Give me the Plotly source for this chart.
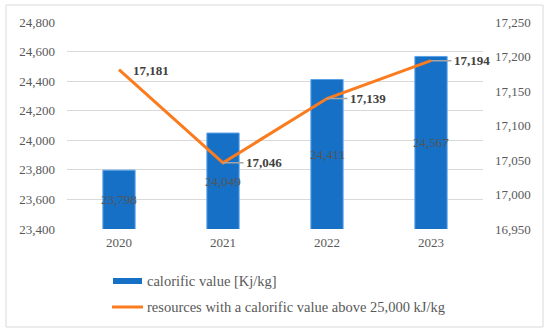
import plotly.graph_objects as go

years = ["2020", "2021", "2022", "2023"]
calorific = [23798, 24049, 24411, 24567]
resources = [17181, 17046, 17139, 17194]
bar_labels = ["23,798", "24,049", "24,411", "24,567"]
line_labels = ["17,181", "17,046", "17,139", "17,194"]
left_ticks = list(range(23400, 24801, 200))
right_ticks = list(range(16950, 17251, 50))

FONT = "Liberation Serif"
GRAY = "#595959"
BLUE = "#1570c6"
ORANGE = "#fb7b1f"

W, H = 550, 335
L, R, T, B = 67, 67, 22, 106
pw, ph = W - L - R, H - T - B
YMIN = 23400

def px(x):
    return (x - L) / pw

def py(y):
    return (H - B - y) / ph

fig = go.Figure()
fig.add_trace(go.Bar(
    x=years, y=calorific, name="calorific value [Kj/kg]",
    marker=dict(color=BLUE, line=dict(color="#5aa2e6", width=1)),
    width=0.31, textposition="none",
    showlegend=False, hoverinfo="skip",
))
fig.add_trace(go.Scatter(
    x=years, y=resources, yaxis="y2", mode="lines",
    name="resources with a calorific value above 25,000 kJ/kg",
    line=dict(color=ORANGE, width=3), showlegend=False,
))

ann = []
# bar value labels (centered in bars)
for i, (v, t) in enumerate(zip(calorific, bar_labels)):
    ann.append(dict(x=i, y=(v + YMIN) / 2, xref="x", yref="y", text=t,
                    showarrow=False, xanchor="center", yanchor="middle",
                    font=dict(family=FONT, size=13, color="#555555")))
# line value labels
for i, (v, t) in enumerate(zip(resources, line_labels)):
    if i == 0:
        ann.append(dict(x=i, y=v, xref="x", yref="y2", text="<b>" + t + "</b>",
                        showarrow=False, xanchor="left", yanchor="middle",
                        xshift=12, yshift=-1,
                        font=dict(family=FONT, size=13, color="#404040")))
    else:
        ann.append(dict(x=i, y=v, xref="x", yref="y2", text="<b>" + t + "</b>",
                        showarrow=True, arrowhead=0, arrowwidth=1.5, arrowcolor="#a6a6a6",
                        ax=41, ay=0, standoff=0, borderpad=2,
                        font=dict(family=FONT, size=13, color="#404040")))

shapes = []
# outer frame
shapes.append(dict(type="rect", xref="paper", yref="paper",
                   x0=px(6), x1=px(543), y0=py(327), y1=py(5),
                   line=dict(color="#d9d9d9", width=1), layer="below"))
# custom legend
shapes.append(dict(type="rect", xref="paper", yref="paper",
                   x0=px(113), x1=px(142), y0=py(284), y1=py(278),
                   fillcolor=BLUE, line=dict(width=0)))
shapes.append(dict(type="line", xref="paper", yref="paper",
                   x0=px(112), x1=px(143), y0=py(307), y1=py(307),
                   line=dict(color=ORANGE, width=3)))
ann.append(dict(xref="paper", yref="paper", x=px(145), y=py(281), text="calorific value [Kj/kg]",
                showarrow=False, xanchor="left", yanchor="middle",
                font=dict(family=FONT, size=14.5, color=GRAY)))
ann.append(dict(xref="paper", yref="paper", x=px(145), y=py(307),
                text="resources with a calorific value above 25,000 kJ/kg",
                showarrow=False, xanchor="left", yanchor="middle",
                font=dict(family=FONT, size=14.5, color=GRAY)))

fig.update_layout(
    width=W, height=H, margin=dict(l=L, r=R, t=T, b=B, autoexpand=False),
    paper_bgcolor="white", plot_bgcolor="white",
    font=dict(family=FONT, size=13, color=GRAY),
    showlegend=False,
    xaxis=dict(type="category", range=[-0.5, 3.5], showgrid=False, showline=False, ticks="",
               automargin=False, ticklabelstandoff=4,
               tickfont=dict(size=13, color=GRAY)),
    yaxis=dict(range=[YMIN, 24800], tickvals=left_ticks, tickformat=",d",
               gridcolor="#d9d9d9", gridwidth=1, zeroline=False, ticks="", ticklen=0,
               automargin=False, ticklabelstandoff=11,
               tickfont=dict(size=13, color=GRAY)),
    yaxis2=dict(range=[16950, 17250], tickvals=right_ticks, tickformat=",d",
                overlaying="y", side="right", showgrid=False, zeroline=False,
                automargin=False, ticklabelstandoff=11,
                tickfont=dict(size=13, color=GRAY)),
    annotations=ann, shapes=shapes,
)

fig.write_html("out.html", config={"displayModeBar": False},
               post_script="document.body.style.margin='0';")
